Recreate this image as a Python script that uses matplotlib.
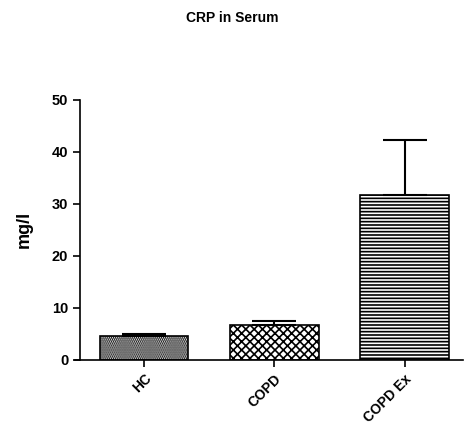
import numpy as np
import matplotlib.pyplot as plt

plt.rcParams['font.family'] = ['Liberation Sans', 'DejaVu Sans']
plt.rcParams['hatch.linewidth'] = 1.2

groups = ["HC", "COPD", "COPD Ex"]
means = [4.5, 6.7, 31.7]
sem = [0.5, 0.8, 10.6]
hatches = ['........', 'xxxx', '-----']

fig = plt.figure(figsize=(4.65, 4.32), dpi=100)
ax = fig.add_axes([0.161, 0.167, 0.835, 0.602])

x = np.arange(len(groups))
for i in range(len(groups)):
    ax.bar(x[i], means[i], width=0.68, color='white', edgecolor='black',
           hatch=hatches[i], linewidth=1.2, zorder=2)
ax.errorbar(x, means, yerr=[np.zeros(len(sem)), sem], fmt='none',
            ecolor='black', elinewidth=1.5, capsize=16, capthick=1.5, zorder=3)

# x axis starts a little left of the y axis, as in the original
ax.set_xlim(-0.53, 2.45)
ax.spines['left'].set_position(('data', -0.49))
ax.set_ylim(0, 50)
ax.set_yticks([0, 10, 20, 30, 40, 50])
ax.set_xticks(x)
ax.set_xticklabels(groups, rotation=45, ha='right', rotation_mode='anchor',
                   fontweight='bold', fontsize=10)
for lab in ax.get_yticklabels():
    lab.set_fontweight('bold')
    lab.set_fontsize(10.5)
ax.tick_params(axis='both', direction='out', length=5, width=1.2)
ax.spines['top'].set_visible(False)
ax.spines['right'].set_visible(False)
ax.spines['left'].set_linewidth(1.2)
ax.spines['bottom'].set_linewidth(1.2)
ax.set_ylabel('mg/l', fontweight='bold', fontsize=13, labelpad=14)
fig.text(0.5, 0.958, 'CRP in Serum', ha='center', va='center',
         fontweight='bold', fontsize=10)

fig.savefig('out.png', dpi=100)
